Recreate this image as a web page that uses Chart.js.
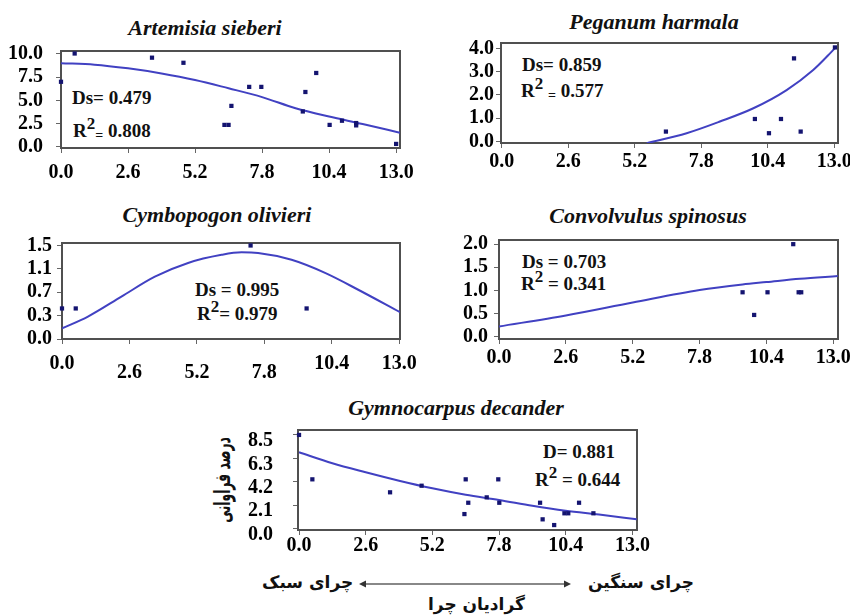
<!DOCTYPE html>
<html>
<head>
<meta charset="utf-8">
<script src="https://cdn.jsdelivr.net/npm/chart.js@4.4.1/dist/chart.umd.min.js"></script>
<style>
body { margin: 0; background: #fff; width: 850px; height: 615px; position: relative; overflow: hidden; }
canvas { position: absolute; }
.title { position: absolute; font: italic bold 22px "Liberation Serif", serif; color: #111; white-space: nowrap; transform: translate(-50%, -50%); }
.stat { position: absolute; font: bold 19px "Liberation Serif", serif; color: #111; white-space: nowrap; transform: translateY(-50%); }
.stat sup { font-size: 17px; position: relative; top: -0.45em; vertical-align: baseline; }
.stat .eq { font-size: 14px; position: relative; top: 3px; }
.fa { position: absolute; font: bold 17px "DejaVu Sans", sans-serif; color: #111; white-space: nowrap; direction: rtl; }
</style>
</head>
<body>

<div class="title" style="left:205px; top:28px">Artemisia sieberi</div>
<div class="title" style="left:654px; top:22px">Peganum harmala</div>
<div class="title" style="left:217px; top:215px">Cymbopogon olivieri</div>
<div class="title" style="left:648px; top:216px">Convolvulus spinosus</div>
<div class="title" style="left:456px; top:408px">Gymnocarpus decander</div>

<div class="stat" style="left:72px; top:98px">Ds= 0.479</div>
<div class="stat" style="left:73px; top:131px">R<sup>2</sup><span class="eq">=</span> 0.808</div>
<div class="stat" style="left:522px; top:65px">Ds= 0.859</div>
<div class="stat" style="left:521px; top:91px">R<sup>2</sup> <span class="eq">=</span> 0.577</div>
<div class="stat" style="left:195px; top:290px">Ds = 0.995</div>
<div class="stat" style="left:197px; top:314px">R<sup>2</sup>= 0.979</div>
<div class="stat" style="left:522px; top:262px">Ds = 0.703</div>
<div class="stat" style="left:521px; top:284px">R<sup>2</sup> = 0.341</div>
<div class="stat" style="left:543px; top:452px">D= 0.881</div>
<div class="stat" style="left:535px; top:480px">R<sup>2</sup> = 0.644</div>

<div class="fa" style="left:222px; top:480px; font-size:22px; transform: translate(-50%, -50%) rotate(-90deg) scaleX(0.56)">درصد فراوانی</div>
<div class="fa" style="left:262px; top:572px">چرای سبک</div>
<div class="fa" style="left:588px; top:572px">چرای سنگین</div>
<div class="fa" style="left:428px; top:594px">گرادیان چرا</div>
<svg style="position:absolute; left:356px; top:577px" width="218" height="14">
  <line x1="7" y1="7" x2="211" y2="7" stroke="#888" stroke-width="2"/>
  <polygon points="3,7 10,3.5 10,10.5" fill="#333"/>
  <polygon points="215,7 208,3.5 208,10.5" fill="#333"/>
</svg>

<script>
// shared x axis
const xTicks = [0, 2.6, 5.2, 7.8, 10.4, 13.0];
const xLabels = ['0.0', '2.6', '5.2', '7.8', '10.4', '13.0'];

// Artemisia sieberi
const artX = [0, 0.53, 3.53, 4.75, 6.34, 6.5, 6.61, 7.3, 7.77, 9.38, 9.48, 9.9, 10.42, 10.9, 11.45, 11.45, 13.0];
const artY = [7.0, 10.05, 9.6, 9.05, 2.35, 2.35, 4.4, 6.45, 6.45, 3.8, 5.9, 7.95, 2.35, 2.8, 2.55, 2.3, 0.3];
const artFitX = [0, 1.3, 2.6, 3.9, 5.2, 6.5, 7.8, 9.1, 10.4, 11.7, 13.15];
const artFitY = [9.0, 8.85, 8.45, 7.9, 7.2, 6.3, 5.35, 4.15, 3.25, 2.45, 1.5];
const artTicks = [0, 2.5, 5, 7.5, 10];
const artTickLabels = ['0.0', '2.5', '5.0', '7.5', '10.0'];

// Peganum harmala
const pegX = [6.42, 9.9, 10.45, 10.92, 11.43, 11.69, 13.03];
const pegY = [0.43, 0.97, 0.36, 0.97, 3.57, 0.43, 4.04];
const pegFitX = [5.67, 7.23, 8.53, 9.84, 11.14, 12.18, 13.03];
const pegFitY = [-0.07, 0.36, 0.86, 1.43, 2.21, 3.07, 4.0];
const pegTicks = [0, 1, 2, 3, 4];
const pegTickLabels = ['0.0', '1.0', '2.0', '3.0', '4.0'];

// Cymbopogon olivieri
const cymX = [0, 0.53, 7.27, 9.43];
const cymY = [0.49, 0.49, 1.5, 0.49];
const cymFitX = [0, 1.0, 2.29, 3.58, 4.86, 6.15, 6.92, 7.56, 8.85, 10.14, 11.42, 13.03];
const cymFitY = [0.17, 0.36, 0.68, 1.0, 1.22, 1.35, 1.39, 1.38, 1.27, 1.06, 0.79, 0.43];
const cymTicks = [0, 0.375, 0.75, 1.125, 1.5];
const cymTickLabels = ['0.0', '0.3', '0.7', '1.1', '1.5'];

// Convolvulus spinosus
const conX = [9.47, 9.92, 10.44, 11.44, 11.65, 11.75];
const conY = [0.96, 0.47, 0.96, 2.0, 0.96, 0.96];
const conFitX = [0, 2.6, 5.2, 7.8, 9.47, 10.4, 11.7, 13.17];
const conFitY = [0.22, 0.46, 0.74, 1.01, 1.13, 1.18, 1.25, 1.31];
const conTicks = [0, 0.5, 1, 1.5, 2];
const conTickLabels = ['0.0', '0.5', '1.0', '1.5', '2.0'];

// Gymnocarpus decander
const gymX = [0, 0.52, 3.55, 4.78, 6.45, 6.5, 6.6, 7.32, 7.77, 7.81, 9.4, 9.5, 9.95, 10.35, 10.5, 10.92, 11.48];
const gymY = [8.5, 4.46, 3.28, 3.88, 1.3, 4.46, 2.33, 2.82, 4.46, 2.33, 2.33, 0.82, 0.3, 1.37, 1.37, 2.33, 1.37];
const gymFitX = [0, 1.3, 2.6, 3.9, 5.2, 6.5, 7.8, 9.1, 10.4, 11.7, 13.17];
const gymFitY = [6.92, 5.92, 5.1, 4.33, 3.64, 3.05, 2.58, 2.05, 1.6, 1.25, 0.82];
const gymTicks = [0, 2.125, 4.25, 6.375, 8.5];
const gymTickLabels = ['0.0', '2.1', '4.2', '6.3', '8.5'];

const YW = 60, XH = 45, PT = 10, PR = 22;
const tickFont = { family: '"Liberation Serif", "Times New Roman", serif', weight: 'bold', size: 20 };

const framePlugin = {
    id: 'frame',
    beforeDatasetsDraw(chart) {
        const a = chart.chartArea, ctx = chart.ctx;
        ctx.save();
        ctx.strokeStyle = '#505050';
        ctx.lineWidth = 2;
        ctx.strokeRect(a.left, a.top, a.right - a.left, a.bottom - a.top);
        ctx.restore();
    }
};

// keep the label overhang from shrinking the plot box
function noPad(s) {
    s.paddingTop = 0; s.paddingBottom = 0; s.paddingLeft = 0; s.paddingRight = 0;
}

function makeChart(p) {
    let c = document.createElement('canvas');
    let fw = p.frame[1] - p.frame[0], fh = p.frame[3] - p.frame[2];
    c.width = YW + fw + PR;
    c.height = PT + fh + XH;
    c.style.left = (p.frame[0] - YW) + 'px';
    c.style.top = (p.frame[2] - PT) + 'px';
    document.body.appendChild(c);

    new Chart(c, {
        type: 'scatter',
        data: {
            datasets: [{
                type: 'line',
                data: p.fitX.map((x, i) => ({ x: x, y: p.fitY[i] })),
                borderColor: '#4141c2',
                borderWidth: 2,
                pointRadius: 0,
                tension: 0.4,
                cubicInterpolationMode: 'monotone',
                fill: false,
                order: 2
            }, {
                data: p.x.map((x, i) => ({ x: x, y: p.y[i] })),
                pointStyle: 'rect',
                pointRadius: 3,
                borderWidth: 0,
                backgroundColor: '#141470',
                clip: false,
                order: 1
            }]
        },
        options: {
            responsive: false,
            animation: false,
            events: [],
            layout: { padding: { top: PT, right: PR, left: 0, bottom: 0 } },
            plugins: { legend: { display: false }, tooltip: { enabled: false } },
            scales: {
                x: {
                    type: 'linear',
                    min: p.xr[0], max: p.xr[1],
                    afterBuildTicks: s => { s.ticks = xTicks.map(v => ({ value: v })); },
                    afterFit: s => { s.height = XH; noPad(s); },
                    border: { display: false },
                    grid: { drawOnChartArea: false, drawTicks: true, tickLength: 5, color: '#666' },
                    ticks: {
                        autoSkip: false, maxRotation: 0, padding: p.xPad, color: '#000',
                        font: Object.assign({}, tickFont, { lineHeight: p.xLH || 1.2 }),
                        callback: (v, i) => (p.xLow && p.xLow.includes(i)) ? ['', xLabels[i]] : xLabels[i]
                    }
                },
                y: {
                    type: 'linear',
                    min: p.yr[0], max: p.yr[1],
                    afterBuildTicks: s => { s.ticks = p.yTicks.map(v => ({ value: v })); },
                    afterFit: s => { s.width = YW; noPad(s); },
                    border: { display: false },
                    grid: { drawOnChartArea: false, drawTicks: true, tickLength: 5, color: '#666' },
                    ticks: {
                        autoSkip: false, padding: p.yPad, color: '#000',
                        font: Object.assign({}, tickFont, { lineHeight: p.yShift ? 0.63 : 1.2 }),
                        callback: (v, i) => p.yShift ? ['', p.yLabels[i]] : p.yLabels[i]
                    }
                }
            }
        },
        plugins: [framePlugin]
    });
}

makeChart({ frame: [61, 400, 51, 148], xr: [0, 13.15], yr: [-0.14, 10.32],
    yTicks: artTicks, yLabels: artTickLabels, x: artX, y: artY, fitX: artFitX, fitY: artFitY, yPad: 13, xPad: 8 });
makeChart({ frame: [501, 838, 43, 143], xr: [-0.03, 13.15], yr: [-0.06, 4.23],
    yTicks: pegTicks, yLabels: pegTickLabels, x: pegX, y: pegY, fitX: pegFitX, fitY: pegFitY, yPad: 2, xPad: 2 });
makeChart({ frame: [62, 400, 243, 339], xr: [0, 13.03], yr: [0, 1.54],
    yTicks: cymTicks, yLabels: cymTickLabels, x: cymX, y: cymY, fitX: cymFitX, fitY: cymFitY, yPad: 5, xPad: 16, xLH: 0.42, xLow: [1, 2, 3] });
makeChart({ frame: [499, 838, 240, 339], xr: [0, 13.18], yr: [-0.05, 2.09],
    yTicks: conTicks, yLabels: conTickLabels, x: conX, y: conY, fitX: conFitX, fitY: conFitY, yPad: 6, xPad: 2 });
makeChart({ frame: [298, 637, 430, 530], xr: [-0.04, 13.18], yr: [-0.15, 8.95],
    yTicks: gymTicks, yLabels: gymTickLabels, x: gymX, y: gymY, fitX: gymFitX, fitY: gymFitY, yPad: 20, xPad: -1, yShift: true });
</script>
</body>
</html>
